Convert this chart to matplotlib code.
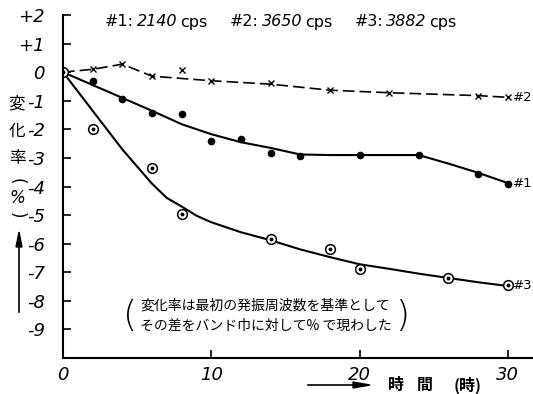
import matplotlib.pyplot as plt

# measured points: hours vs. change of oscillation frequency (%)
hours_1 = [0, 2, 4, 6, 8, 10, 12, 14, 16, 20, 24, 28, 30]
rate_1 = [0, -0.3, -0.95, -1.43, -1.47, -2.42, -2.35, -2.83, -2.92, -2.9, -2.9, -3.55, -3.92]
hours_2 = [0, 2, 4, 6, 8, 10, 14, 18, 22, 28, 30]
rate_2 = [0, 0.1, 0.28, -0.14, 0.07, -0.3, -0.37, -0.63, -0.72, -0.82, -0.88]
hours_3 = [0, 2, 6, 8, 14, 18, 20, 26, 30]
rate_3 = [0, -2.0, -3.35, -4.95, -5.85, -6.2, -6.9, -7.2, -7.45]

# hand-drawn trend lines
fit_h1 = [0, 2, 4, 6, 8, 10, 12, 14, 16, 18, 20, 22, 24, 26, 28, 30]
fit_1 = [0, -0.45, -0.9, -1.35, -1.82, -2.17, -2.45, -2.65, -2.88, -2.9, -2.9, -2.9, -2.9, -3.2, -3.52, -3.88]
fit_h2 = [0, 2, 4, 6, 10, 14, 18, 22, 28, 30]
fit_2 = [0, 0.1, 0.28, -0.14, -0.3, -0.42, -0.63, -0.72, -0.82, -0.88]
fit_h3 = [0, 2, 4, 6, 7, 8, 9, 10, 12, 14, 16, 18, 20, 22, 24, 26, 28, 30]
fit_3 = [0, -1.35, -2.7, -3.9, -4.4, -4.7, -5.02, -5.25, -5.6, -5.88, -6.2, -6.47, -6.72, -6.88, -7.05, -7.2, -7.35, -7.48]

yticks = [2, 1, 0, -1, -2, -3, -4, -5, -6, -7, -8, -9]
ylabels = ['+2', '+1', '0', '-1', '-2', '-3', '-4', '-5', '-6', '-7', '-8', '-9']
xticks = [0, 10, 20, 30]
units = ['#1', '#2', '#3']
freqs = ['2140', '3650', '3882']

jp = ['Noto Sans CJK JP', 'DejaVu Sans']
W, H = 533, 394


def px(x, y):
    return x / W, 1 - y / H


fig = plt.figure(figsize=(W / 100, H / 100), dpi=100)
ax = fig.add_axes([63 / W, 1 - 358 / H, (W - 63) / W, (358 - 15) / H])

ax.plot(fit_h1, fit_1, color='black', lw=1.5)
ax.plot(fit_h2, fit_2, color='black', lw=1.2, dashes=(7, 3))
ax.plot(fit_h3, fit_3, color='black', lw=1.5)

ax.plot(hours_1, rate_1, 'o', color='black', ms=4.5, ls='none')
ax.plot(hours_2, rate_2, 'x', color='black', ms=4, mew=1, ls='none')
ax.plot(hours_3, rate_3, 'o', mfc='white', mec='black', mew=1.1, ms=7, ls='none')
ax.plot(hours_3, rate_3, 'o', color='black', ms=1.8, ls='none')

for name, end in zip(['#2', '#1', '#3'], [fit_2[-1], fit_1[-1], fit_3[-1]]):
    ax.text(30.35, end, name, fontsize=9.5, va='center', clip_on=False)

ax.set_xlim(0, 31.7)
ax.set_ylim(-10, 2)
ax.set_yticks(yticks)
ax.set_yticklabels(ylabels, fontsize=13, fontstyle='italic')
ax.set_xticks(xticks)
ax.set_xticklabels([str(t) for t in xticks], fontsize=13, fontstyle='italic')
ax.tick_params(axis='y', direction='in', length=6, width=1.2, pad=13)
ax.tick_params(axis='x', direction='in', length=6, width=1.2, pad=6)
for s in ['top', 'right']:
    ax.spines[s].set_visible(False)
for s in ['left', 'bottom']:
    ax.spines[s].set_linewidth(1.5)

# frequencies of the three units, laid out piece by piece
renderer = fig.canvas.get_renderer()
x = 105
for name, f in zip(units, freqs):
    for s, style, gap in [(name + ':', 'normal', 3), (f, 'italic', 3), ('cps', 'normal', 22)]:
        t = fig.text(*px(x, 22), s, fontsize=11.5, fontstyle=style, va='center', ha='left')
        x = t.get_window_extent(renderer).x1 + gap

# vertical y-axis caption with arrow
for y, ch in [(104, '変'), (131, '化'), (158, '率')]:
    fig.text(*px(17, y), ch, family=jp, fontsize=12, ha='center', va='center')
fig.text(*px(17, 181), '(', fontsize=12, rotation=-90, ha='center', va='center')
fig.text(*px(17, 198), '%', fontsize=12, fontstyle='italic', ha='center', va='center')
fig.text(*px(17, 215), ')', fontsize=12, rotation=-90, ha='center', va='center')
fig.add_artist(plt.Line2D([19 / W, 19 / W], [1 - 312 / H, 1 - 245 / H], color='black', lw=1.2))
fig.patches.append(plt.Polygon([px(19, 232), px(16, 247), px(22, 247)], closed=True,
                               color='black', transform=fig.transFigure))

# x-axis caption with arrow
fig.add_artist(plt.Line2D([308 / W, 355 / W], [1 - 385 / H, 1 - 385 / H], color='black', lw=1.2))
fig.patches.append(plt.Polygon([px(370, 385), px(353, 382), px(353, 388)], closed=True,
                               color='black', transform=fig.transFigure))
fig.text(*px(396, 385), '時', family=jp, fontsize=11.5, fontweight='bold', ha='center', va='center')
fig.text(*px(425, 385), '間', family=jp, fontsize=11.5, fontweight='bold', ha='center', va='center')
fig.text(*px(468, 385), '(時)', family=jp, fontsize=11.5, fontweight='bold', ha='center', va='center')

# note on how the change rate is defined
fig.text(*px(130, 316), '(', fontsize=26, ha='center', va='center', fontweight='light')
fig.text(*px(402, 316), ')', fontsize=26, ha='center', va='center', fontweight='light')
fig.text(*px(140, 306), '変化率は最初の発振周波数を基準として', family=jp, fontsize=10,
         ha='left', va='center')
fig.text(*px(140, 326), 'その差をバンド巾に対して% で現わした', family=jp, fontsize=10,
         ha='left', va='center')

fig.savefig('out.png', dpi=100)
